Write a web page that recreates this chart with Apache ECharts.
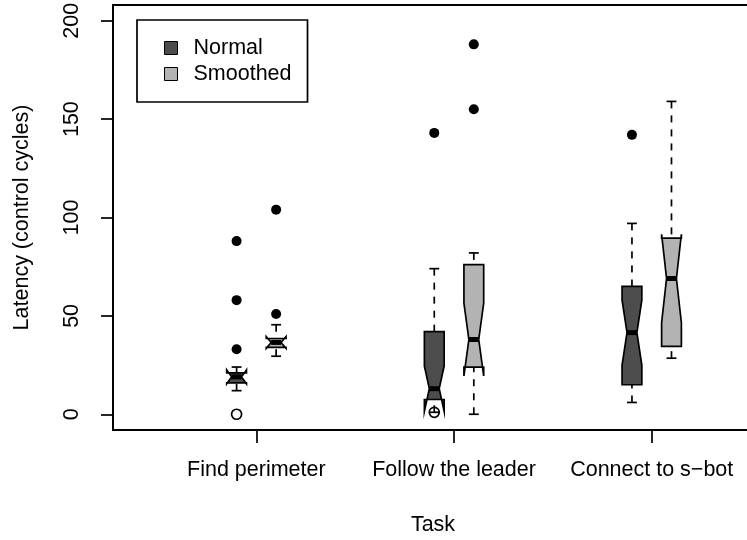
<!DOCTYPE html>
<html>
<head>
<meta charset="utf-8">
<script src="https://cdn.jsdelivr.net/npm/echarts@6/dist/echarts.min.js"></script>
<style>
  html, body { margin: 0; padding: 0; background: #ffffff; }
  #chart { width: 747px; height: 540px; }
</style>
</head>
<body>
<div id="chart"></div>
<script>
// ---- data ----
const categories = ['Find perimeter', 'Follow the leader', 'Connect to s\u2212bot'];
const groupPos = [1, 2, 3];
const yTicks = [0, 50, 100, 150, 200];

// Normal
const normalLow = [12, 1, 6];
const normalQ1 = [16, 7.5, 15];
const normalNotchLow = [15.5, 1.5, 25];
const normalMedian = [19, 13, 41.5];
const normalNotchHigh = [22.5, 24.5, 58];
const normalQ3 = [21, 42, 65];
const normalHigh = [24, 74, 97];
const normalOutliers = [[1, 33], [1, 58], [1, 88], [2, 143], [3, 142]];
const normalOpenPoints = [[1, 0], [2, 1]];

// Smoothed
const smoothedLow = [29.5, 0, 28.5];
const smoothedQ1 = [34, 24, 34.5];
const smoothedNotchLow = [33.5, 19.5, 46.5];
const smoothedMedian = [36.5, 38, 69];
const smoothedNotchHigh = [39.5, 56.5, 91.5];
const smoothedQ3 = [38.5, 76, 89.5];
const smoothedHigh = [45.5, 82, 159];
const smoothedOutliers = [[1, 51], [1, 104], [2, 155], [2, 188]];

// ---- layout constants ----
const OFFSET = 0.1;
const BOX_HALF = 0.05;
const NOTCH_FRAC = 0.5;
const STAPLE_FRAC = 0.5;
const FONT = 'Liberation Sans, Arial, Helvetica, sans-serif';
const FS = 21.5;
const LW = 1.7;

function buildRows(low, q1, nl, med, nh, q3, high) {
  return groupPos.map((g, i) => [g, low[i], q1[i], nl[i], med[i], nh[i], q3[i], high[i]]);
}

function makeRenderItem(offset) {
  return function (params, api) {
    const xc = api.value(0) + offset;
    const low = api.value(1), q1 = api.value(2), nl = api.value(3), med = api.value(4),
          nh = api.value(5), q3 = api.value(6), high = api.value(7);
    const c = (x, y) => api.coord([x, y]);
    const W = BOX_HALF, NW = BOX_HALF * NOTCH_FRAC, SW = BOX_HALF * STAPLE_FRAC;
    const pts = [c(xc - W, q1), c(xc + W, q1), c(xc + W, nl), c(xc + NW, med), c(xc + W, nh),
                 c(xc + W, q3), c(xc - W, q3), c(xc - W, nh), c(xc - NW, med), c(xc - W, nl)];
    const line = (a, b, dash, w) => ({
      type: 'line',
      shape: { x1: a[0], y1: a[1], x2: b[0], y2: b[1] },
      style: { stroke: '#000', lineWidth: w || LW, lineDash: dash || null, lineCap: 'butt' }
    });
    return {
      type: 'group',
      children: [
        { type: 'polygon', shape: { points: pts },
          style: { fill: api.visual('color'), stroke: '#000', lineWidth: LW, lineJoin: 'miter' } },
        line(c(xc, high), c(xc, q3), [7, 7]),
        line(c(xc, low), c(xc, q1), [7, 7]),
        line(c(xc - SW, high), c(xc + SW, high)),
        line(c(xc - SW, low), c(xc + SW, low)),
        line(c(xc - NW, med), c(xc + NW, med), null, 5)
      ]
    };
  };
}

const chart = echarts.init(document.getElementById('chart'), null, { renderer: 'canvas' });

const option = {
  backgroundColor: '#ffffff',
  animation: false,
  textStyle: { fontFamily: FONT },
  grid: {
    left: 113, top: 5, width: 682, height: 425,
    outerBoundsMode: 'none',
    containLabel: false,
    show: true, borderColor: '#000', borderWidth: 2, backgroundColor: 'transparent'
  },
  legend: {
    data: ['Normal', 'Smoothed'],
    orient: 'vertical',
    left: 137, top: 20,
    backgroundColor: '#fff',
    borderColor: '#000', borderWidth: LW, borderRadius: 0,
    padding: [17, 16, 17, 27],
    itemWidth: 13, itemHeight: 13, itemGap: 4,
    icon: 'rect',
    selectedMode: false,
    itemStyle: { borderColor: '#000', borderWidth: 1 },
    textStyle: { fontFamily: FONT, fontSize: FS, color: '#000', lineHeight: 21, padding: [0, 0, 0, 11] }
  },
  xAxis: {
    type: 'value',
    min: 0.2748, max: 3.7248,
    name: 'Task',
    nameLocation: 'middle',
    nameGap: 84,
    nameTextStyle: { fontFamily: FONT, fontSize: FS, color: '#000', padding: [0, 42, 0, 0] },
    axisLine: { show: false, onZero: false },
    splitLine: { show: false },
    axisTick: { show: true, length: 13, customValues: groupPos, lineStyle: { color: '#000', width: LW } },
    axisLabel: {
      customValues: groupPos,
      margin: 29,
      fontFamily: FONT, fontSize: FS, color: '#000',
      formatter: v => categories[Math.round(v) - 1] || ''
    }
  },
  yAxis: {
    type: 'value',
    min: -8, max: 208,
    name: 'Latency (control cycles)',
    nameLocation: 'middle',
    nameRotate: 90,
    nameGap: 80,
    nameTextStyle: { fontFamily: FONT, fontSize: FS, color: '#000' },
    axisLine: { show: false, onZero: false },
    splitLine: { show: false },
    axisTick: { show: true, length: 12, customValues: yTicks, lineStyle: { color: '#000', width: LW } },
    axisLabel: {
      customValues: yTicks,
      rotate: 90,
      margin: 30,
      fontFamily: FONT, fontSize: FS, color: '#000'
    }
  },
  series: [
    {
      name: 'Normal', type: 'custom', color: '#4d4d4d',
      renderItem: makeRenderItem(-OFFSET),
      encode: { x: 0, y: [1, 2, 3, 4, 5, 6, 7] },
      data: buildRows(normalLow, normalQ1, normalNotchLow, normalMedian, normalNotchHigh, normalQ3, normalHigh),
      z: 2
    },
    {
      name: 'Smoothed', type: 'custom', color: '#b3b3b3',
      renderItem: makeRenderItem(OFFSET),
      encode: { x: 0, y: [1, 2, 3, 4, 5, 6, 7] },
      data: buildRows(smoothedLow, smoothedQ1, smoothedNotchLow, smoothedMedian, smoothedNotchHigh, smoothedQ3, smoothedHigh),
      z: 2
    },
    {
      name: 'Normal outliers', type: 'scatter', symbol: 'circle', symbolSize: 10,
      itemStyle: { color: '#000', opacity: 1 },
      data: normalOutliers.map(p => [p[0] - OFFSET, p[1]]),
      z: 3
    },
    {
      name: 'Normal zero', type: 'scatter', symbol: 'circle', symbolSize: 10,
      itemStyle: { color: 'none', borderColor: '#000', borderWidth: LW, opacity: 1 },
      data: normalOpenPoints.map(p => [p[0] - OFFSET, p[1]]),
      z: 3
    },
    {
      name: 'Smoothed outliers', type: 'scatter', symbol: 'circle', symbolSize: 10,
      itemStyle: { color: '#000', opacity: 1 },
      data: smoothedOutliers.map(p => [p[0] + OFFSET, p[1]]),
      z: 3
    }
  ]
};

chart.setOption(option);
</script>
</body>
</html>
